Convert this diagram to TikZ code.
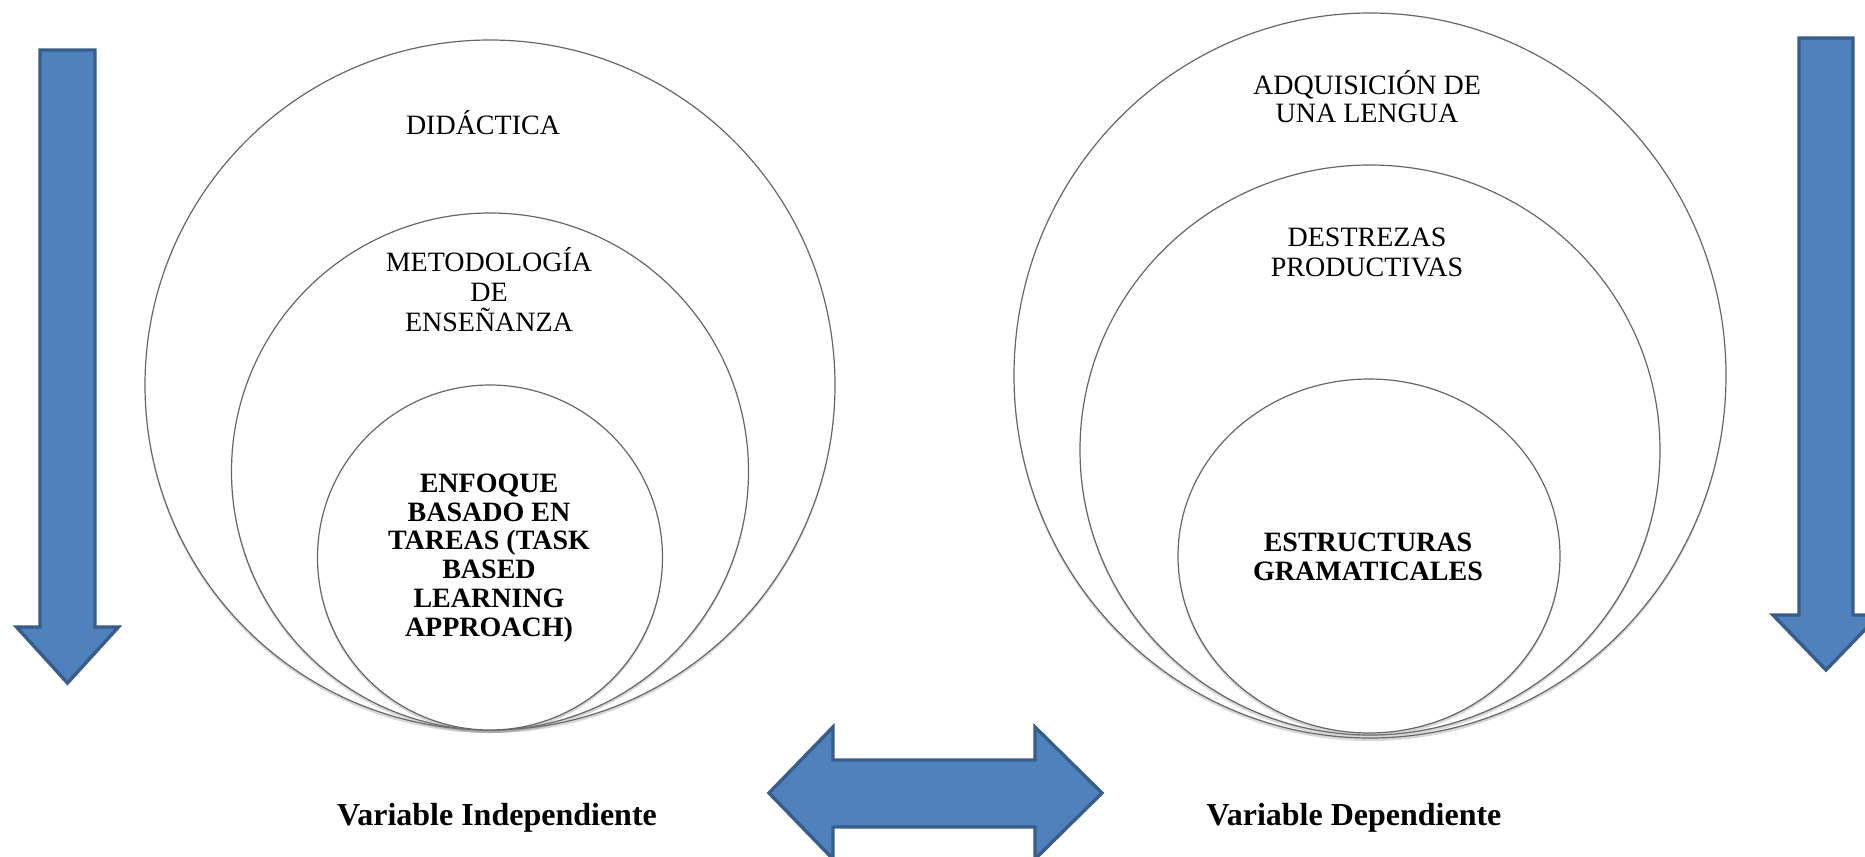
\documentclass[tikz,border=0pt]{standalone}
\usepackage{fontspec}
\setmainfont{Liberation Serif}
\usetikzlibrary{shapes.geometric,shadows}
\definecolor{arrowfill}{HTML}{4F81BD}
\definecolor{arrowline}{HTML}{385D8A}
\begin{document}
\begin{tikzpicture}[x=0.5pt,y=-0.5pt,
  ring/.style={ellipse, draw=black!60, line width=0.6pt, fill=white, inner sep=0pt,
    drop shadow={shadow xshift=0pt, shadow yshift=-1.5pt, opacity=0.3}},
  blockarrow/.style={fill=arrowfill, draw=arrowline, line width=1.7pt, line join=miter},
  plainlabel/.style={align=center, font=\fontsize{14}{15}\selectfont, inner sep=0pt},
  boldlabel/.style={align=center, font=\fontsize{14}{14.4}\selectfont\bfseries, inner sep=0pt},
  varlabel/.style={font=\fontsize{16}{19}\selectfont\bfseries, inner sep=0pt}]
\fill[white] (0,0) rectangle (1865,857);
\useasboundingbox (0,0) rectangle (1865,857);
\clip (0,0) rectangle (1865,857);

% left nested circles
\node[ring, minimum width=345pt, minimum height=345pt] (Lout) at (490,385) {};
\node[ring, minimum width=258.5pt, minimum height=258.5pt] (Lmid) at (490,471.5) {};
\node[ring, minimum width=172.5pt, minimum height=172.5pt] (Lin) at (490,557.5) {};

% right nested circles
\node[ring, minimum width=356pt, minimum height=362.5pt] (Rout) at (1370,375.5) {};
\node[ring, minimum width=290pt, minimum height=285pt] (Rmid) at (1370,450) {};
\node[ring, minimum width=191pt, minimum height=177pt] (Rin) at (1369,556) {};

% texts
\node[plainlabel] (t1) at (483,123) {DIDÁCTICA};
\node[plainlabel] (t2) at (489,290) {METODOLOGÍA\\DE\\ENSEÑANZA};
\node[boldlabel] (t3) at (489,558) {ENFOQUE\\BASADO EN\\TAREAS (TASK\\BASED\\LEARNING\\APPROACH)};
\node[plainlabel, font=\fontsize{14}{14}\selectfont] (t4) at (1367,97) {ADQUISICIÓN DE\\UNA LENGUA};
\node[plainlabel] (t5) at (1367,252) {DESTREZAS\\PRODUCTIVAS};
\node[boldlabel] (t6) at (1368,557) {ESTRUCTURAS\\GRAMATICALES};
\node[varlabel] (v1) at (497,818) {Variable Independiente};
\node[varlabel] (v2) at (1354,818) {Variable Dependiente};

% block arrows
\draw[blockarrow] (40,50) -- (95,50) -- (95,627) -- (118.5,627) -- (67.5,683)
  -- (16.5,627) -- (40,627) -- cycle;
\draw[blockarrow] (1799,38) -- (1853,38) -- (1853,615) -- (1879,615) -- (1826,670)
  -- (1773,615) -- (1799,615) -- cycle;
\draw[blockarrow] (769,793) -- (833,727) -- (833,760) -- (1035,760) -- (1035,727)
  -- (1102,793) -- (1035,859) -- (1035,827) -- (833,827) -- (833,859) -- cycle;
\end{tikzpicture}
\end{document}
